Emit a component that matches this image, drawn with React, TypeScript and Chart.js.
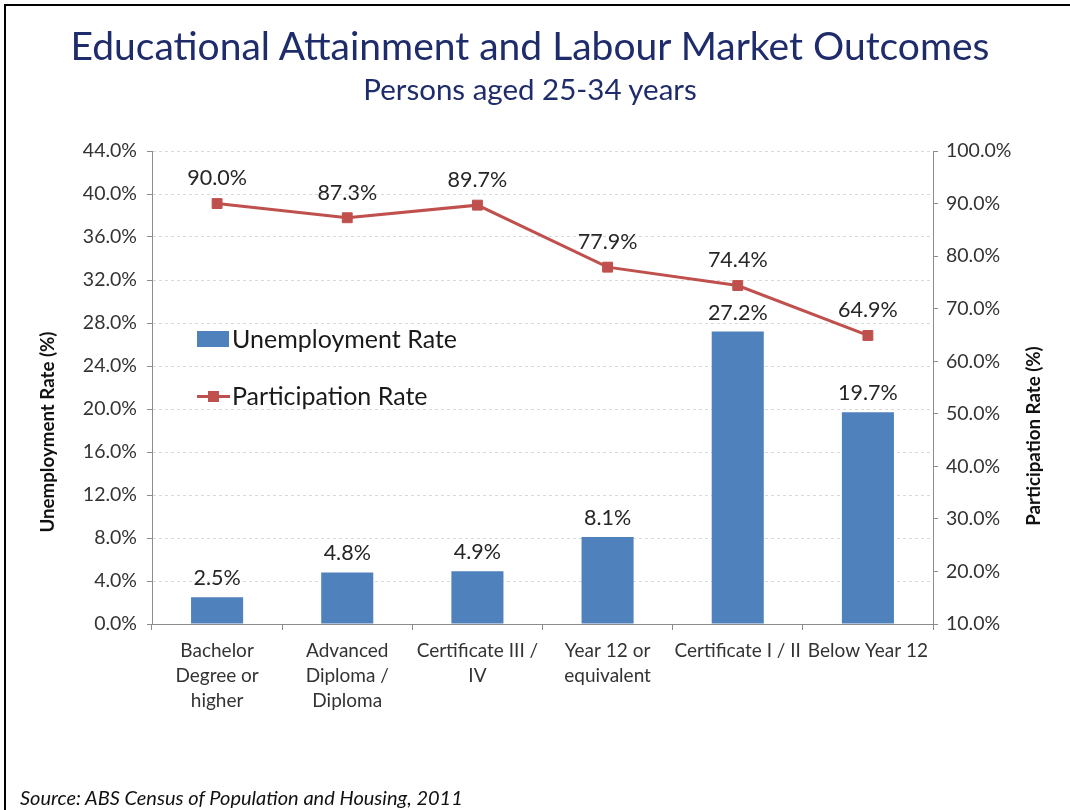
import { useEffect, useRef } from 'react';
import { Chart, registerables } from 'chart.js';

Chart.register(...registerables);

const categories: string[][] = [
  ['Bachelor', 'Degree or', 'higher'],
  ['Advanced', 'Diploma /', 'Diploma'],
  ['Certificate III /', 'IV'],
  ['Year 12 or', 'equivalent'],
  ['Certificate I / II'],
  ['Below Year 12'],
];
const unemploymentLabel = 'Unemployment Rate';
const participationLabel = 'Participation Rate';
const unemploymentRate = [2.5, 4.8, 4.9, 8.1, 27.2, 19.7];
const participationRate = [90.0, 87.3, 89.7, 77.9, 74.4, 64.9];
const leftTickValues = [0, 4, 8, 12, 16, 20, 24, 28, 32, 36, 40, 44];
const rightTickValues = [10, 20, 30, 40, 50, 60, 70, 80, 90, 100];

const FONT = 'Lato, "Open Sans", sans-serif';
const BAR_COLOR = '#4F81BD';
const LINE_COLOR = '#C0504D';
const TEXT_COLOR = '#333333';
const AXIS_COLOR = '#8C8C8C';

const valueLabels = {
  id: 'valueLabels',
  afterDatasetsDraw(chart: any) {
    const ctx = chart.ctx;
    chart.data.datasets.forEach((ds: any, i: number) => {
      const meta = chart.getDatasetMeta(i);
      const off = ds.type === 'line' ? 25 : 19;
      ctx.save();
      ctx.font = `21.5px ${FONT}`;
      ctx.fillStyle = '#262626';
      ctx.textAlign = 'center';
      ctx.textBaseline = 'middle';
      meta.data.forEach((el: any, j: number) => {
        ctx.fillText(Number(ds.data[j]).toFixed(1) + '%', el.x, el.y - off);
      });
      ctx.restore();
    });
  },
};

export default function App() {
  const ref = useRef<HTMLCanvasElement>(null);

  useEffect(() => {
    if (!ref.current) return;
    Chart.defaults.font.family = FONT;
    const chart = new Chart(ref.current, {
      type: 'bar',
      data: {
        labels: categories,
        datasets: [
          {
            type: 'line',
            label: participationLabel,
            data: participationRate,
            yAxisID: 'y2',
            borderColor: LINE_COLOR,
            backgroundColor: LINE_COLOR,
            borderWidth: 3,
            pointStyle: 'rect',
            pointRadius: 7,
            pointBorderWidth: 1,
            pointBackgroundColor: LINE_COLOR,
            pointBorderColor: LINE_COLOR,
            tension: 0,
            order: 0,
          } as any,
          {
            type: 'bar',
            label: unemploymentLabel,
            data: unemploymentRate,
            yAxisID: 'y',
            backgroundColor: BAR_COLOR,
            borderWidth: 0,
            categoryPercentage: 1,
            barPercentage: 0.4,
            order: 1,
          },
        ],
      },
      options: {
        animation: false,
        responsive: false,
        maintainAspectRatio: false,
        layout: { padding: { left: 20, right: 20, top: 151, bottom: 86 } },
        plugins: {
          legend: { display: false },
          title: { display: false },
          tooltip: { enabled: false },
        },
        scales: {
          x: {
            grid: {
              offset: true,
              drawOnChartArea: false,
              drawTicks: true,
              tickLength: 6,
              color: AXIS_COLOR,
              tickColor: AXIS_COLOR,
            },
            border: { display: true, color: AXIS_COLOR, width: 1 },
            ticks: {
              color: TEXT_COLOR,
              font: { size: 19, lineHeight: 1.33 },
              padding: 8,
              maxRotation: 0,
              autoSkip: false,
            },
            afterFit: (s: any) => {
              s.height = 100;
            },
          },
          y: {
            position: 'left',
            min: 0,
            max: 44,
            afterBuildTicks: (s: any) => {
              s.ticks = leftTickValues.map((v) => ({ value: v }));
            },
            grid: {
              color: '#D9D9D9',
              tickColor: AXIS_COLOR,
              tickLength: 5,
              tickBorderDash: [],
            },
            border: { display: true, color: AXIS_COLOR, width: 1, dash: [3, 3] },
            ticks: {
              color: TEXT_COLOR,
              font: { size: 19.5 },
              padding: 10,
              callback: (v: any) => Number(v).toFixed(1) + '%',
            },
            afterFit: (s: any) => {
              s.width = 132;
            },
          },
          y2: {
            position: 'right',
            min: 10,
            max: 100,
            afterBuildTicks: (s: any) => {
              s.ticks = rightTickValues.map((v) => ({ value: v }));
            },
            grid: {
              drawOnChartArea: false,
              color: AXIS_COLOR,
              tickColor: AXIS_COLOR,
              tickLength: 5,
            },
            border: { display: true, color: AXIS_COLOR, width: 1 },
            ticks: {
              color: TEXT_COLOR,
              font: { size: 19.5 },
              padding: 8,
              callback: (v: any) => Number(v).toFixed(1) + '%',
            },
            afterFit: (s: any) => {
              s.width = 117;
            },
          },
        },
      },
      plugins: [valueLabels],
    });
    return () => chart.destroy();
  }, []);

  const abs: React.CSSProperties = { position: 'absolute' };

  return (
    <div
      style={{
        position: 'absolute',
        left: 0,
        top: 0,
        width: 1070,
        height: 810,
        background: '#fff',
        fontFamily: FONT,
        overflow: 'hidden',
      }}
    >
      <div style={{ ...abs, left: 4, top: 4, width: 1066, height: 806, borderTop: '2px solid #000', borderLeft: '2px solid #000' }} />
      <canvas ref={ref} width={1070} height={810} style={{ ...abs, left: 0, top: 0, width: 1070, height: 810 }} />
      <div style={{ ...abs, left: 0, top: 21, width: 1060, textAlign: 'center', fontSize: 39, lineHeight: '48px', color: '#1F2C6B', whiteSpace: 'nowrap' }}>
        Educational Attainment and Labour Market Outcomes
      </div>
      <div style={{ ...abs, left: 0, top: 72, width: 1060, textAlign: 'center', fontSize: 29.5, lineHeight: '34px', color: '#1F2C6B', whiteSpace: 'nowrap' }}>
        Persons aged 25-34 years
      </div>
      <div style={{ ...abs, left: 47 - 150, top: 432 - 12, width: 300, height: 24, lineHeight: '24px', textAlign: 'center', fontSize: 18.7, fontWeight: 'bold', color: '#111', transform: 'rotate(-90deg)', whiteSpace: 'nowrap' }}>
        Unemployment Rate (%)
      </div>
      <div style={{ ...abs, left: 1033 - 150, top: 436 - 12, width: 300, height: 24, lineHeight: '24px', textAlign: 'center', fontSize: 18.7, fontWeight: 'bold', color: '#111', transform: 'rotate(-90deg)', whiteSpace: 'nowrap' }}>
        Participation Rate (%)
      </div>
      <div style={{ ...abs, left: 197, top: 331, width: 32, height: 16, background: BAR_COLOR }} />
      <div style={{ ...abs, left: 232, top: 323, lineHeight: '30px', fontSize: 25, color: '#1a1a1a', whiteSpace: 'nowrap' }}>{unemploymentLabel}</div>
      <div style={{ ...abs, left: 197, top: 395, width: 33, height: 3, background: LINE_COLOR }} />
      <div style={{ ...abs, left: 208, top: 391, width: 11, height: 11, background: LINE_COLOR }} />
      <div style={{ ...abs, left: 232, top: 380, lineHeight: '30px', fontSize: 25, color: '#1a1a1a', whiteSpace: 'nowrap' }}>{participationLabel}</div>
      <div style={{ ...abs, left: 20, top: 783, lineHeight: '28px', fontSize: 20, fontStyle: 'italic', color: '#111', whiteSpace: 'nowrap' }}>
        Source: ABS Census of Population and Housing, 2011
      </div>
    </div>
  );
}
